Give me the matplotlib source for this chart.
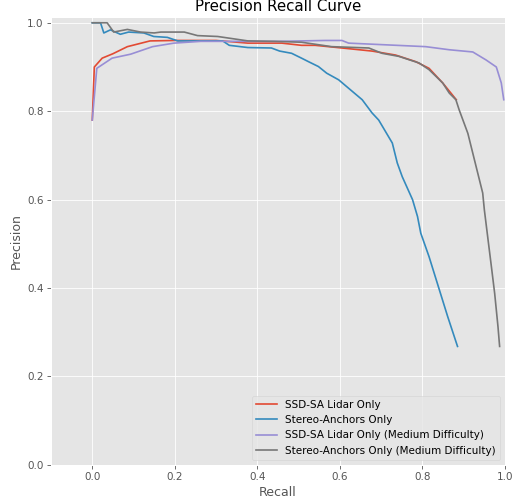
import matplotlib

matplotlib.use("Agg")
import matplotlib.pyplot as plt

# SSD-SA Lidar Only
lidar_recall = [0.0, 0.005, 0.024, 0.05, 0.085, 0.14, 0.20, 0.30, 0.377, 0.459, 0.507,
                0.54, 0.605, 0.678, 0.735, 0.784, 0.816, 0.849, 0.882]
lidar_precision = [0.78, 0.90, 0.92, 0.93, 0.946, 0.959, 0.960, 0.960, 0.954, 0.954, 0.949,
                   0.949, 0.943, 0.936, 0.927, 0.912, 0.897, 0.864, 0.826]

# Stereo-Anchors Only
stereo_recall = [0.0, 0.02, 0.028, 0.044, 0.068, 0.088, 0.125, 0.149, 0.182, 0.207, 0.316,
                 0.332, 0.377, 0.434, 0.454, 0.483, 0.507, 0.524, 0.548, 0.568, 0.597,
                 0.621, 0.654, 0.678, 0.694, 0.727, 0.739, 0.751, 0.776, 0.788, 0.796,
                 0.816, 0.841, 0.861, 0.885]
stereo_precision = [1.0, 1.0, 0.977, 0.984, 0.974, 0.979, 0.977, 0.969, 0.967, 0.959, 0.959,
                    0.949, 0.944, 0.943, 0.936, 0.931, 0.920, 0.912, 0.901, 0.886, 0.871,
                    0.852, 0.826, 0.796, 0.78, 0.728, 0.683, 0.652, 0.60, 0.562, 0.524,
                    0.471, 0.396, 0.336, 0.268]

# SSD-SA Lidar Only (Medium Difficulty)
lidar_med_recall = [0.0, 0.011, 0.048, 0.093, 0.146, 0.198, 0.263, 0.45, 0.564, 0.605,
                    0.621, 0.808, 0.865, 0.922, 0.954, 0.979, 0.991, 0.997]
lidar_med_precision = [0.78, 0.897, 0.92, 0.929, 0.946, 0.954, 0.958, 0.958, 0.96, 0.96,
                       0.954, 0.946, 0.939, 0.934, 0.916, 0.90, 0.864, 0.826]

# Stereo-Anchors Only (Medium Difficulty)
stereo_med_recall = [0.0, 0.036, 0.052, 0.085, 0.117, 0.15, 0.166, 0.223, 0.255, 0.304,
                     0.377, 0.442, 0.507, 0.58, 0.67, 0.702, 0.743, 0.792, 0.816, 0.849,
                     0.865, 0.881, 0.889, 0.91, 0.93, 0.946, 0.95, 0.959, 0.967, 0.975,
                     0.983, 0.987]
stereo_med_precision = [1.0, 1.0, 0.979, 0.985, 0.979, 0.977, 0.979, 0.979, 0.971, 0.969,
                        0.959, 0.958, 0.956, 0.946, 0.943, 0.931, 0.924, 0.909, 0.894, 0.864,
                        0.841, 0.826, 0.803, 0.75, 0.675, 0.615, 0.577, 0.509, 0.449, 0.388,
                        0.313, 0.268]

plt.style.use("ggplot")
dpi = 75
fig = plt.figure(figsize=(512 / dpi, 501 / dpi), dpi=dpi)
ax = fig.add_axes([0.0996, 0.072, 0.8867, 0.894])

ax.plot(lidar_recall, lidar_precision, label="SSD-SA Lidar Only", lw=1.6)
ax.plot(stereo_recall, stereo_precision, label="Stereo-Anchors Only", lw=1.6)
ax.plot(lidar_med_recall, lidar_med_precision,
        label="SSD-SA Lidar Only (Medium Difficulty)", lw=1.6)
ax.plot(stereo_med_recall, stereo_med_precision,
        label="Stereo-Anchors Only (Medium Difficulty)", lw=1.6)

ax.set_xlim(-0.1, 1.0)
ax.set_ylim(0.0, 1.013)
ax.set_xlabel("Recall")
ax.set_ylabel("Precision")
ax.set_title("Precision Recall Curve")
ax.legend(loc="lower right")

fig.savefig("out.png", dpi=dpi)
